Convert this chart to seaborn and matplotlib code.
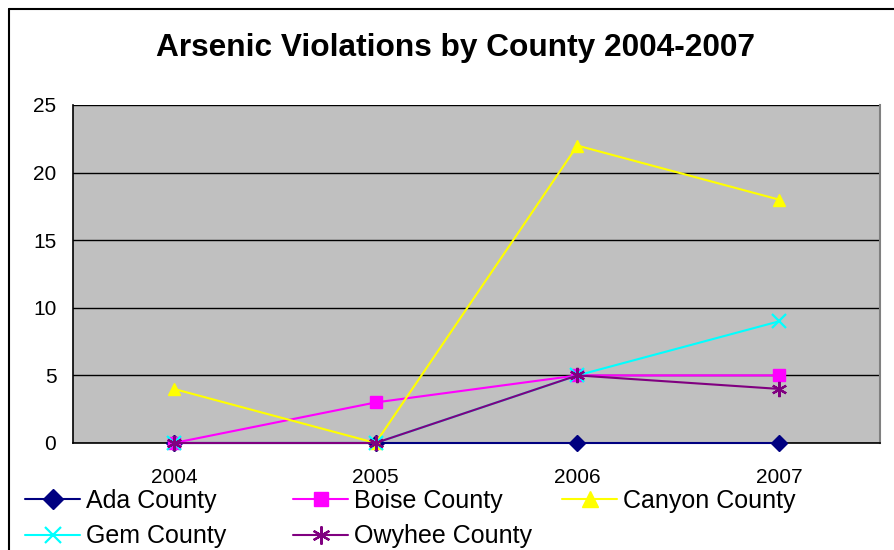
import matplotlib
matplotlib.use("Agg")
import matplotlib.pyplot as plt
from matplotlib.lines import Line2D
import seaborn as sns
import pandas as pd

years = ["2004", "2005", "2006", "2007"]
ada = [0, 0, 0, 0]
boise = [0, 3, 5, 5]
canyon = [4, 0, 22, 18]
gem = [0, 0, 5, 9]
owyhee = [0, 0, 5, 4]

series_names = ["Ada County", "Boise County", "Canyon County", "Gem County", "Owyhee County"]
series_values = [ada, boise, canyon, gem, owyhee]
colors = ["#000080", "#FF00FF", "#FFFF00", "#00FFFF", "#800080"]
markers = ["D", "s", "^", "x", (6, 2, 0)]
msizes = [8, 8.5, 9, 10, 11]

sns.set_style("white")
plt.rcParams["font.family"] = ["Liberation Sans", "DejaVu Sans"]
plt.rcParams["text.color"] = "black"
plt.rcParams["xtick.color"] = "black"
plt.rcParams["ytick.color"] = "black"
plt.rcParams["xtick.labelcolor"] = "black"
plt.rcParams["ytick.labelcolor"] = "black"

W, H = 894, 550
fig = plt.figure(figsize=(W / 100, H / 100), dpi=100)
L, R, T, B = 73, 880, 105, 443
ax = fig.add_axes([L / W, 1 - B / H, (R - L) / W, (B - T) / H])
ax.set_facecolor("#C0C0C0")

rows = []
for name, vals in zip(series_names, series_values):
    for i, v in enumerate(vals):
        rows.append({"county": name, "pos": i, "year": years[i], "value": v})
df = pd.DataFrame(rows)

handles = []
for name, c, m, ms in zip(series_names, colors, markers, msizes):
    sub = df[df["county"] == name]
    mew = 1.6 if m in ("x",) or isinstance(m, tuple) else 1.0
    sns.lineplot(data=sub, x="pos", y="value", color=c, marker=m, markersize=ms,
                 markeredgecolor=c, markerfacecolor=c, markeredgewidth=mew,
                 linewidth=1.5, ax=ax, legend=False, zorder=3, clip_on=False)
    handles.append(Line2D([], [], color=c, marker=m, markersize=ms + 2,
                          markeredgecolor=c, markerfacecolor=c,
                          markeredgewidth=mew, linewidth=1.5))

ax.set_xlim(-0.5, len(years) - 0.5)
ax.set_ylim(0, 25)
ax.set_yticks([0, 5, 10, 15, 20, 25])
ax.yaxis.grid(True, color="black", linewidth=1.0)
ax.set_axisbelow(True)
ax.set_xticks([i - 0.5 for i in range(len(years) + 1)])
ax.set_xticklabels([])
ax.set_xticks(range(len(years)), minor=True)
ax.set_xticklabels(years, minor=True)
ax.tick_params(axis="x", which="major", direction="out", length=5, width=1, color="black")
ax.tick_params(axis="x", which="minor", length=0, pad=18, labelsize=15, labelcolor="black")
ax.tick_params(axis="y", direction="out", length=5, width=1, color="black", pad=7,
               labelsize=15, labelcolor="black")
ax.set_xlabel("")
ax.set_ylabel("")
for s in ["left", "bottom"]:
    ax.spines[s].set_color("black")
    ax.spines[s].set_linewidth(1.2)
ax.spines["top"].set_visible(False)
ax.spines["right"].set_color("#808080")
ax.spines["right"].set_linewidth(1.5)

fig.text(455 / W, 1 - 48 / H, "Arsenic Violations by County 2004-2007",
         ha="center", va="center", fontsize=22.8, fontweight="bold", color="black")

# Legend laid out in three equal-width columns, filled row by row
ncols = 3
col_x = [25, 293, 562]
for col in range(ncols):
    idx = [i for i in range(len(series_names)) if i % ncols == col]
    leg = fig.legend([handles[i] for i in idx], [series_names[i] for i in idx],
                     loc="upper left", bbox_to_anchor=(col_x[col] / W, 1 - 489 / H),
                     frameon=False, fontsize=18, handlelength=2.2, handletextpad=0.25,
                     labelspacing=0.46, borderpad=0, borderaxespad=0)
    for t in leg.get_texts():
        t.set_color("black")

fig.add_artist(Line2D([9 / W, 9 / W], [0, 1 - 9 / H], color="black", linewidth=1.5,
                      transform=fig.transFigure))
fig.add_artist(Line2D([9 / W, 1], [1 - 9 / H, 1 - 9 / H], color="black", linewidth=1.5,
                      transform=fig.transFigure))

fig.savefig("out.png", dpi=100)
